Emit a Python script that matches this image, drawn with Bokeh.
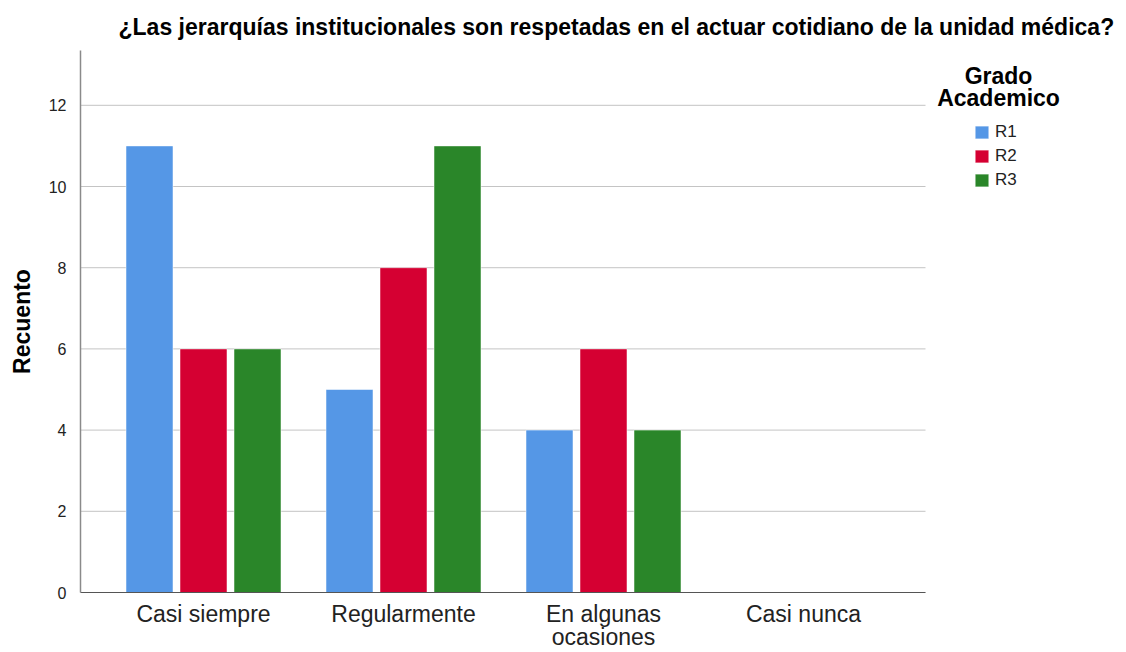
from bokeh.plotting import figure
from bokeh.models import ColumnDataSource, Legend, LegendItem, FixedTicker, Range1d, Title, Label
from bokeh.embed import file_html
from bokeh.resources import INLINE

categories = ["Casi siempre", "Regularmente", "En algunas\nocasiones", "Casi nunca"]
series = ["R1", "R2", "R3"]
r1 = [11, 5, 4, 0]
r2 = [6, 8, 6, 0]
r3 = [6, 11, 4, 0]
colors = ["#5597e6", "#d50032", "#2a8629"]
y_ticks = [0, 2, 4, 6, 8, 10, 12]
legend_title = ["Grado", "Academico"]

FONT = "Liberation Sans"
X0, X1 = 0.385, 4.61          # extent of the plotting area proper
XR = 5.615                     # frame extends right to host the legend

p = figure(width=1126, height=652, output_backend="svg", toolbar_location=None,
           x_range=Range1d(X0, XR), y_range=Range1d(0, 13.35),
           min_border_left=80, min_border_right=0, min_border_top=50, min_border_bottom=60)
p.background_fill_color = "white"
p.border_fill_color = "white"
p.outline_line_color = None

# grid lines limited to the plot area
p.xgrid.grid_line_color = None
p.ygrid.grid_line_color = None
p.segment(x0=[X0] * len(y_ticks), x1=[X1] * len(y_ticks), y0=y_ticks, y1=y_ticks,
          line_color="#c4c4c4", line_width=1)

xs = [i + 1 for i in range(len(categories))]
offsets = [-0.27, 0.0, 0.27]
vals = [r1, r2, r3]
renderers = []
for s, off, v, c in zip(series, offsets, vals, colors):
    src = ColumnDataSource(dict(x=[x + off for x in xs], top=v))
    r = p.vbar(x="x", top="top", width=0.235, bottom=0, source=src,
               fill_color=c, line_color="#ffffff", line_alpha=0.5, line_width=1)
    renderers.append(r)

# y axis
p.yaxis.ticker = FixedTicker(ticks=y_ticks)
p.yaxis.axis_label = "Recuento"
p.yaxis.axis_label_text_font = FONT
p.yaxis.axis_label_text_font_style = "bold"
p.yaxis.axis_label_text_font_size = "23px"
p.yaxis.axis_label_text_color = "#000000"
p.yaxis.axis_label_standoff = 11
p.yaxis.major_label_text_font = FONT
p.yaxis.major_label_text_font_size = "16px"
p.yaxis.major_label_text_color = "#222222"
p.yaxis.axis_line_color = "#8a8a8a"
p.yaxis.axis_line_width = 1.5
p.yaxis.major_tick_line_color = None
p.yaxis.minor_tick_line_color = None
p.yaxis.major_label_standoff = 8

# x axis
p.xaxis.ticker = FixedTicker(ticks=xs)
p.xaxis.bounds = (X0, X1)
p.xaxis.major_label_overrides = {x: c for x, c in zip(xs, categories)}
p.xaxis.major_label_text_font = FONT
p.xaxis.major_label_text_font_size = "23px"
p.xaxis.major_label_text_line_height = 0.9
p.xaxis.major_label_text_color = "#222222"
p.xaxis.axis_line_color = "#555555"
p.xaxis.axis_line_width = 1
p.xaxis.major_tick_line_color = None
p.xaxis.minor_tick_line_color = None
p.xaxis.major_label_standoff = 2

# title
t = Title(text="¿Las jerarquías institucionales son respetadas en el actuar cotidiano de la unidad médica?",
          align="left", offset=38, text_font=FONT, text_font_style="bold",
          text_font_size="23px", text_color="#000000", standoff=22)
p.add_layout(t, "above")

legend = Legend(items=[LegendItem(label=s, renderers=[r]) for s, r in zip(series, renderers)],
                location=(893, 402))
legend.label_text_font = FONT
legend.label_text_font_size = "17px"
legend.label_text_color = "#222222"
legend.glyph_width = 17
legend.glyph_height = 16
legend.label_standoff = 5
legend.spacing = 4
legend.label_height = 16
legend.border_line_color = None
legend.background_fill_alpha = 0
legend.padding = 0
legend.margin = 0
p.add_layout(legend, "center")

for txt, yy in zip(legend_title, [517, 495]):
    p.add_layout(Label(x=918, y=yy, x_units="screen", y_units="screen", text=txt,
                       text_font=FONT, text_font_style="bold", text_font_size="23px",
                       text_color="#000000", text_align="center", text_baseline="middle"))

open("out.html", "w").write(file_html(p, INLINE))
